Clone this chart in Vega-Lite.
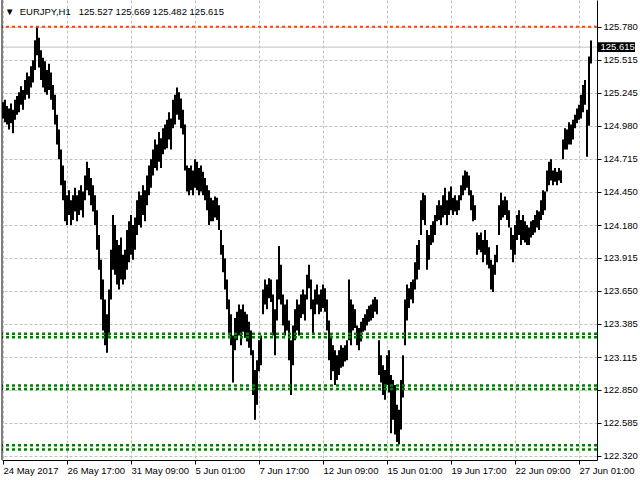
{
"$schema": "https://vega.github.io/schema/vega-lite/v6.json",
"width": 595, "height": 460,
"autosize": {"type": "none"},
"padding": {"left": 2, "top": 0, "right": 43, "bottom": 20},
"background": "white",
"title": {"text": "▼\u00a0\u00a0EURJPY,H1\u00a0\u00a0\u00a0125.527 125.669 125.482 125.615", "anchor": "start", "frame": "group", "orient": "top", "offset": -25, "baseline": "alphabetic", "dx": 3, "font": "Liberation Sans", "fontSize": 9.5, "fontWeight": "normal", "color": "#000"},
"config": {"view": {"stroke": null}, "axis": {"domainColor": "#000", "tickColor": "#000", "labelColor": "#000", "labelFont": "Liberation Sans", "labelFontSize": 9.5, "gridColor": "#c0c0c0", "gridDash": [3, 2], "gridOpacity": 1, "tickSize": 4, "domainWidth": 1, "labelOverlap": false, "labelFlush": false, "labelBound": false}},
"datasets": {
"bars": [
{"i":0,"h":125.17,"l":125.04},{"i":2,"h":125.19,"l":125.01},{"i":4,"h":125.14,"l":124.99},{"i":6,"h":125.12,"l":124.95},{"i":8,"h":125.16,"l":125.00},{"i":10,"h":125.11,"l":124.92},{"i":12,"h":125.19,"l":125.03},{"i":14,"h":125.22,"l":125.07},{"i":16,"h":125.25,"l":125.09},{"i":18,"h":125.30,"l":125.15},
{"i":20,"h":125.27,"l":125.11},{"i":22,"h":125.35,"l":125.19},{"i":24,"h":125.41,"l":125.23},{"i":26,"h":125.38,"l":125.20},{"i":28,"h":125.46,"l":125.29},{"i":30,"h":125.51,"l":125.33},{"i":32,"h":125.67,"l":125.43},{"i":34,"h":125.78,"l":125.55},{"i":36,"h":125.69,"l":125.45},{"i":38,"h":125.59,"l":125.35},
{"i":40,"h":125.53,"l":125.29},{"i":42,"h":125.50,"l":125.25},{"i":44,"h":125.43,"l":125.23},{"i":46,"h":125.48,"l":125.27},{"i":48,"h":125.41,"l":125.19},{"i":50,"h":125.31,"l":125.11},{"i":52,"h":125.23,"l":124.99},{"i":54,"h":125.07,"l":124.83},{"i":56,"h":124.95,"l":124.71},{"i":58,"h":124.79,"l":124.50},
{"i":60,"h":124.66,"l":124.38},{"i":62,"h":124.54,"l":124.21},{"i":64,"h":124.42,"l":124.18},{"i":66,"h":124.46,"l":124.26},{"i":68,"h":124.38,"l":124.18},{"i":70,"h":124.42,"l":124.22},{"i":72,"h":124.48,"l":124.29},{"i":74,"h":124.42,"l":124.21},{"i":76,"h":124.46,"l":124.26},{"i":78,"h":124.50,"l":124.30},
{"i":80,"h":124.45,"l":124.24},{"i":82,"h":124.58,"l":124.38},{"i":84,"h":124.69,"l":124.46},{"i":86,"h":124.64,"l":124.42},{"i":88,"h":124.56,"l":124.34},{"i":90,"h":124.50,"l":124.29},{"i":92,"h":124.42,"l":124.18},{"i":94,"h":124.30,"l":123.98},{"i":96,"h":124.10,"l":123.82},{"i":98,"h":123.90,"l":123.58},
{"i":100,"h":123.74,"l":123.33},{"i":102,"h":123.58,"l":123.21},{"i":104,"h":123.46,"l":123.15},{"i":106,"h":123.66,"l":123.29},{"i":108,"h":123.98,"l":123.58},{"i":110,"h":124.26,"l":123.82},{"i":112,"h":124.18,"l":123.78},{"i":114,"h":124.06,"l":123.70},{"i":116,"h":124.02,"l":123.66},{"i":118,"h":124.08,"l":123.74},
{"i":120,"h":123.94,"l":123.70},{"i":122,"h":123.98,"l":123.74},{"i":124,"h":124.14,"l":123.82},{"i":126,"h":124.21,"l":123.88},{"i":128,"h":124.26,"l":123.94},{"i":130,"h":124.18,"l":123.90},{"i":132,"h":124.24,"l":123.98},{"i":134,"h":124.38,"l":124.10},{"i":136,"h":124.45,"l":124.18},{"i":138,"h":124.42,"l":124.16},
{"i":140,"h":124.50,"l":124.26},{"i":142,"h":124.46,"l":124.21},{"i":144,"h":124.58,"l":124.34},{"i":146,"h":124.66,"l":124.42},{"i":148,"h":124.71,"l":124.48},{"i":150,"h":124.79,"l":124.58},{"i":152,"h":124.87,"l":124.64},{"i":154,"h":124.83,"l":124.62},{"i":156,"h":124.93,"l":124.69},{"i":158,"h":124.88,"l":124.64},
{"i":160,"h":124.96,"l":124.75},{"i":162,"h":124.99,"l":124.79},{"i":164,"h":125.03,"l":124.80},{"i":166,"h":125.09,"l":124.87},{"i":168,"h":125.04,"l":124.79},{"i":170,"h":125.19,"l":124.96},{"i":172,"h":125.23,"l":124.99},{"i":174,"h":125.29,"l":125.07},{"i":176,"h":125.25,"l":125.03},{"i":178,"h":125.20,"l":124.96},
{"i":180,"h":125.11,"l":124.91},{"i":182,"h":124.99,"l":124.62},{"i":184,"h":124.66,"l":124.45},{"i":186,"h":124.64,"l":124.42},{"i":188,"h":124.66,"l":124.46},{"i":190,"h":124.62,"l":124.42},{"i":192,"h":124.71,"l":124.48},{"i":194,"h":124.69,"l":124.46},{"i":196,"h":124.64,"l":124.42},{"i":198,"h":124.66,"l":124.45},
{"i":200,"h":124.61,"l":124.42},{"i":202,"h":124.56,"l":124.38},{"i":204,"h":124.50,"l":124.30},{"i":206,"h":124.46,"l":124.18},{"i":208,"h":124.40,"l":124.21},{"i":210,"h":124.38,"l":124.21},{"i":212,"h":124.41,"l":124.24},{"i":214,"h":124.40,"l":124.22},{"i":216,"h":124.34,"l":124.14},{"i":218,"h":124.14,"l":123.94},
{"i":220,"h":124.02,"l":123.80},{"i":222,"h":123.91,"l":123.66},{"i":224,"h":123.74,"l":123.50},{"i":226,"h":123.58,"l":123.29},{"i":228,"h":123.46,"l":123.21},{"i":230,"h":123.29,"l":122.91},{"i":232,"h":123.43,"l":123.17},{"i":234,"h":123.48,"l":123.25},{"i":236,"h":123.54,"l":123.29},{"i":238,"h":123.50,"l":123.21},
{"i":240,"h":123.54,"l":123.32},{"i":242,"h":123.48,"l":123.27},{"i":244,"h":123.46,"l":123.24},{"i":246,"h":123.40,"l":123.19},{"i":248,"h":123.33,"l":123.13},{"i":250,"h":123.17,"l":122.81},{"i":252,"h":123.01,"l":122.61},{"i":254,"h":123.09,"l":122.73},{"i":256,"h":123.25,"l":123.00},{"i":258,"h":123.29,"l":123.05},
{"i":260,"h":123.66,"l":123.46},{"i":262,"h":123.74,"l":123.54},{"i":264,"h":123.70,"l":123.50},{"i":266,"h":123.75,"l":123.59},{"i":268,"h":123.74,"l":123.56},{"i":270,"h":123.62,"l":123.29},{"i":272,"h":123.50,"l":123.13},{"i":274,"h":123.74,"l":123.41},{"i":276,"h":124.01,"l":123.58},{"i":278,"h":123.86,"l":123.54},
{"i":280,"h":123.62,"l":123.37},{"i":282,"h":123.54,"l":123.29},{"i":284,"h":123.58,"l":123.33},{"i":286,"h":123.41,"l":123.09},{"i":288,"h":123.25,"l":122.81},{"i":290,"h":123.37,"l":123.05},{"i":292,"h":123.50,"l":123.25},{"i":294,"h":123.58,"l":123.33},{"i":296,"h":123.54,"l":123.29},{"i":298,"h":123.62,"l":123.43},
{"i":300,"h":123.66,"l":123.46},{"i":302,"h":123.62,"l":123.41},{"i":304,"h":123.78,"l":123.58},{"i":306,"h":123.86,"l":123.67},{"i":308,"h":123.74,"l":123.50},{"i":310,"h":123.58,"l":123.31},{"i":312,"h":123.66,"l":123.46},{"i":314,"h":123.70,"l":123.54},{"i":316,"h":123.62,"l":123.46},{"i":318,"h":123.66,"l":123.48},
{"i":320,"h":123.70,"l":123.51},{"i":322,"h":123.67,"l":123.48},{"i":324,"h":123.58,"l":123.33},{"i":326,"h":123.41,"l":123.09},{"i":328,"h":123.29,"l":122.93},{"i":330,"h":123.21,"l":123.00},{"i":332,"h":123.17,"l":122.89},{"i":334,"h":123.13,"l":122.93},{"i":336,"h":123.17,"l":122.97},{"i":338,"h":123.21,"l":123.03},
{"i":340,"h":123.19,"l":123.04},{"i":342,"h":123.21,"l":123.08},{"i":344,"h":123.25,"l":123.09},{"i":346,"h":123.74,"l":123.25},{"i":348,"h":123.58,"l":123.21},{"i":350,"h":123.54,"l":123.33},{"i":352,"h":123.50,"l":123.35},{"i":354,"h":123.37,"l":123.21},{"i":356,"h":123.35,"l":123.17},{"i":358,"h":123.40,"l":123.24},
{"i":360,"h":123.43,"l":123.32},{"i":362,"h":123.46,"l":123.33},{"i":364,"h":123.50,"l":123.37},{"i":366,"h":123.53,"l":123.40},{"i":368,"h":123.54,"l":123.41},{"i":370,"h":123.58,"l":123.43},{"i":372,"h":123.60,"l":123.48},{"i":374,"h":123.58,"l":123.46},{"i":376,"h":123.25,"l":122.97},{"i":378,"h":123.13,"l":122.91},
{"i":380,"h":123.05,"l":122.81},{"i":382,"h":123.01,"l":122.77},{"i":384,"h":123.13,"l":122.89},{"i":386,"h":123.17,"l":122.83},{"i":388,"h":122.97,"l":122.50},{"i":390,"h":122.93,"l":122.61},{"i":392,"h":122.89,"l":122.49},{"i":394,"h":122.73,"l":122.43},{"i":396,"h":122.69,"l":122.41},{"i":398,"h":122.93,"l":122.53},
{"i":400,"h":123.13,"l":122.79},{"i":402,"h":123.58,"l":123.21},{"i":404,"h":123.70,"l":123.41},{"i":406,"h":123.67,"l":123.51},{"i":408,"h":123.72,"l":123.58},{"i":410,"h":123.74,"l":123.55},{"i":412,"h":123.88,"l":123.66},{"i":414,"h":124.02,"l":123.74},{"i":416,"h":124.06,"l":123.82},{"i":418,"h":124.38,"l":124.10},
{"i":420,"h":124.44,"l":124.22},{"i":422,"h":124.42,"l":124.18},{"i":424,"h":124.14,"l":123.82},{"i":426,"h":124.10,"l":123.90},{"i":428,"h":124.18,"l":124.02},{"i":430,"h":124.21,"l":124.04},{"i":432,"h":124.26,"l":124.10},{"i":434,"h":124.34,"l":124.21},{"i":436,"h":124.38,"l":124.22},{"i":438,"h":124.34,"l":124.18},
{"i":440,"h":124.42,"l":124.24},{"i":442,"h":124.48,"l":124.26},{"i":444,"h":124.38,"l":124.18},{"i":446,"h":124.45,"l":124.26},{"i":448,"h":124.49,"l":124.30},{"i":450,"h":124.40,"l":124.26},{"i":452,"h":124.42,"l":124.29},{"i":454,"h":124.38,"l":124.26},{"i":456,"h":124.42,"l":124.30},{"i":458,"h":124.50,"l":124.38},
{"i":460,"h":124.58,"l":124.42},{"i":462,"h":124.62,"l":124.46},{"i":464,"h":124.61,"l":124.48},{"i":466,"h":124.58,"l":124.42},{"i":468,"h":124.46,"l":124.30},{"i":470,"h":124.42,"l":124.21},{"i":472,"h":124.34,"l":124.22},{"i":474,"h":124.12,"l":123.94},{"i":476,"h":124.10,"l":123.98},{"i":478,"h":124.12,"l":123.96},
{"i":480,"h":124.06,"l":123.88},{"i":482,"h":124.14,"l":123.94},{"i":484,"h":124.06,"l":123.86},{"i":486,"h":124.00,"l":123.83},{"i":488,"h":123.90,"l":123.66},{"i":490,"h":123.86,"l":123.64},{"i":492,"h":123.94,"l":123.78},{"i":494,"h":124.02,"l":123.88},{"i":496,"h":124.34,"l":124.10},{"i":498,"h":124.44,"l":124.22},
{"i":500,"h":124.38,"l":124.24},{"i":502,"h":124.41,"l":124.26},{"i":504,"h":124.38,"l":124.22},{"i":506,"h":124.30,"l":124.16},{"i":508,"h":124.16,"l":123.98},{"i":510,"h":124.10,"l":123.88},{"i":512,"h":124.18,"l":123.94},{"i":514,"h":124.26,"l":124.06},{"i":516,"h":124.30,"l":124.10},{"i":518,"h":124.22,"l":124.02},
{"i":520,"h":124.26,"l":124.06},{"i":522,"h":124.21,"l":124.04},{"i":524,"h":124.18,"l":124.02},{"i":526,"h":124.16,"l":124.02},{"i":528,"h":124.21,"l":124.08},{"i":530,"h":124.22,"l":124.10},{"i":532,"h":124.26,"l":124.12},{"i":534,"h":124.30,"l":124.16},{"i":536,"h":124.29,"l":124.14},{"i":538,"h":124.38,"l":124.22},
{"i":540,"h":124.46,"l":124.26},{"i":542,"h":124.45,"l":124.30},{"i":544,"h":124.62,"l":124.45},{"i":546,"h":124.69,"l":124.50},{"i":548,"h":124.71,"l":124.54},{"i":550,"h":124.62,"l":124.50},{"i":552,"h":124.64,"l":124.53},{"i":554,"h":124.61,"l":124.50},{"i":556,"h":124.64,"l":124.54},{"i":558,"h":124.62,"l":124.52},
{"i":560,"h":124.87,"l":124.71},{"i":562,"h":124.96,"l":124.79},{"i":564,"h":124.95,"l":124.79},{"i":566,"h":125.01,"l":124.83},{"i":568,"h":124.99,"l":124.83},{"i":570,"h":125.03,"l":124.87},{"i":572,"h":125.07,"l":124.96},{"i":574,"h":125.12,"l":125.00},{"i":576,"h":125.15,"l":125.03},{"i":578,"h":125.23,"l":125.04},
{"i":580,"h":125.31,"l":125.09},{"i":582,"h":125.35,"l":125.15},{"i":584,"h":125.11,"l":124.73},{"i":586,"h":125.54,"l":124.98},{"i":588,"h":125.669,"l":125.482}
],
"levels": [{"p":123.304},{"p":123.276},{"p":122.886},{"p":122.858},{"p":122.404},{"p":122.370}],
"high": [{"p":125.78}],
"bid": [{"bid":125.615}]
},
"layer": [
{"data": {"name": "bid"}, "mark": {"type": "rule", "color": "#c0c0c0", "strokeWidth": 1},
 "encoding": {"y": {"field": "bid", "type": "quantitative", "scale": {"domain": [122.285, 125.995], "nice": false, "zero": false}, "title": null}}},
{"data": {"name": "bars"}, "mark": {"type": "rule", "color": "#000", "strokeWidth": 2},
 "encoding": {
  "x": {"field": "i", "type": "quantitative", "scale": {"domain": [-1, 594], "nice": false, "zero": false}, "title": null,
        "axis": {"orient": "bottom", "values": [0,64,128,192,256,320,384,448,512,576], "tickCount": 30, "labelExpr": "['24 May 2017','26 May 17:00','31 May 09:00','5 Jun 01:00','7 Jun 17:00','12 Jun 09:00','15 Jun 01:00','19 Jun 17:00','22 Jun 09:00','27 Jun 01:00'][round(datum.value/64)]", "labelAlign": "left", "labelBaseline": "top", "labelPadding": 1, "labelFlush": false, "labelOverlap": false, "grid": true}},
  "y": {"field": "h", "type": "quantitative", "scale": {"domain": [122.285, 125.995], "nice": false, "zero": false}, "title": null,
        "axis": {"orient": "right", "values": [125.78,125.515,125.245,124.98,124.715,124.45,124.18,123.915,123.65,123.385,123.115,122.85,122.585,122.32], "tickCount": 30, "format": ".3f", "grid": true, "labelPadding": 2, "labelFlush": false, "labelOverlap": false}},
  "y2": {"field": "l"}}},
{"data": {"name": "levels"}, "mark": {"type": "rule", "color": "#008000", "strokeWidth": 2.5, "strokeDash": [3, 3]},
 "encoding": {"y": {"field": "p", "type": "quantitative", "scale": {"domain": [122.285, 125.995], "nice": false, "zero": false}, "title": null}}},
{"data": {"name": "high"}, "mark": {"type": "rule", "color": "#ff4500", "strokeWidth": 2, "strokeDash": [3, 3]},
 "encoding": {"y": {"field": "p", "type": "quantitative", "scale": {"domain": [122.285, 125.995], "nice": false, "zero": false}, "title": null}}},
{"data": {"name": "bid"}, "mark": {"type": "rule", "color": "#000", "strokeWidth": 1},
 "encoding": {"x": {"datum": -1, "type": "quantitative", "scale": {"domain": [-1, 594], "nice": false, "zero": false}, "title": null}}},
{"data": {"name": "bid"}, "mark": {"type": "rect", "color": "#000"},
 "encoding": {"x": {"datum": 595, "type": "quantitative", "scale": {"domain": [-1, 594], "nice": false, "zero": false}, "title": null}, "x2": {"datum": 632},
  "y": {"datum": 125.655, "type": "quantitative", "scale": {"domain": [122.285, 125.995], "nice": false, "zero": false}, "title": null}, "y2": {"datum": 125.575}}},
{"data": {"name": "bid"}, "mark": {"type": "text", "color": "#fff", "align": "left", "baseline": "middle", "font": "Liberation Sans", "fontSize": 9.5},
 "encoding": {"x": {"datum": 597.5, "type": "quantitative", "scale": {"domain": [-1, 594], "nice": false, "zero": false}, "title": null},
  "y": {"field": "bid", "type": "quantitative", "scale": {"domain": [122.285, 125.995], "nice": false, "zero": false}, "title": null},
  "text": {"field": "bid", "type": "quantitative", "format": ".3f"}}}
]
}
